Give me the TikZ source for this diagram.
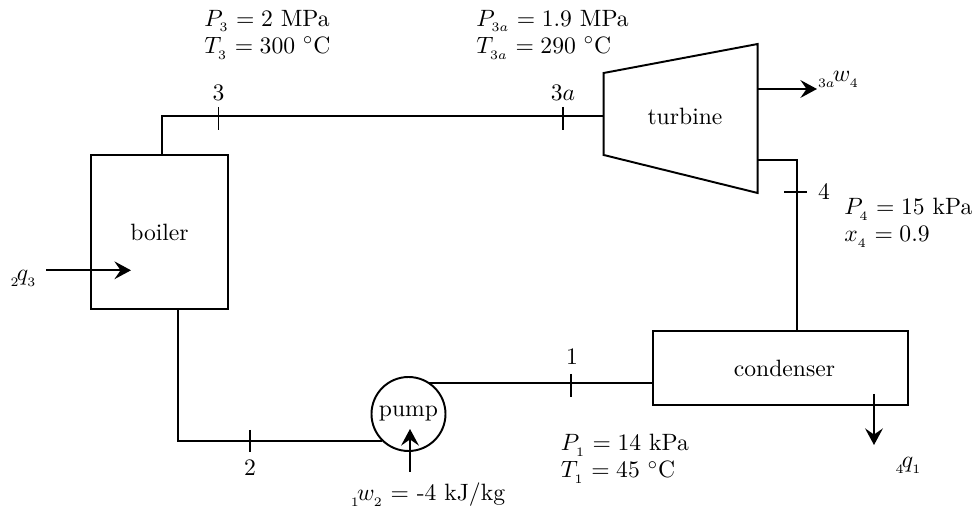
\documentclass[11pt,tikz,border=0pt]{standalone}
\usepackage{amsmath, amssymb}
\usetikzlibrary{positioning,arrows.meta}
\tikzset{
  flowarrow/.style={-{Stealth[length=2.7mm,width=2.9mm,inset=1mm]}, line width=0.9pt},
  pipe/.style={line width=0.9pt},
  tickmark/.style={line width=0.7pt},
  unitbox/.style={draw, line width=0.9pt, inner sep=0pt, align=center},
  statelabel/.style={align=left, anchor=west, inner sep=0pt},
  relabel/.style={inner sep=0pt}
}

\begin{document}
\begin{tikzpicture}[x=0.0163cm, y=-0.0163cm]
  \useasboundingbox (0,0) rectangle (974,508);
  % units
  \node[unitbox, minimum width=137*0.0163cm, minimum height=154*0.0163cm] (boiler) at (159.5,232) {\raisebox{-1.4pt}{boiler}};
  \node[unitbox, minimum width=255*0.0163cm, minimum height=74*0.0163cm] (condenser) at (780.5,368) {\hspace*{3.7pt}condenser};
  \node[unitbox, circle, minimum size=74*0.0163cm] (pump) at (408.5,414) {pump};
  \coordinate (tl1) at (603.7,73);
  \coordinate (tr1) at (757.7,44);
  \coordinate (tr2) at (757.7,193);
  \coordinate (tl2) at (603.7,155);
  \draw[line width=0.9pt, line join=miter] (tl1) -- (tr1) -- (tr2) -- (tl2) -- cycle;
  \node[relabel] (turbine) at (685,116) {turbine};
  % pipes
  \coordinate (b3) at (162,155);
  \coordinate (b2) at (178,309);
  \coordinate (tin) at (603.7,115.7);
  \coordinate (tout) at (757.7,160);
  \coordinate (cin) at (796.7,331);
  \coordinate (cout) at (653,383);
  \draw[pipe] (b3) |- (tin);
  \draw[pipe] (tout) -| (cin);
  \draw[pipe] (cout) -- (cout -| pump.57);
  \draw[pipe] (b2) |- (pump.-134);
  % state ticks
  \coordinate (s3) at (218.5,107);
  \coordinate (s3a) at (563,107);
  \coordinate (s4) at (784,192);
  \coordinate (s1) at (571,374);
  \coordinate (s2) at (250,430);
  \draw[tickmark] (s3) -- ++(0,23);
  \draw[tickmark] (s3a) -- ++(0,23);
  \draw[tickmark] (s4) -- ++(23,0);
  \draw[tickmark] (s1) -- ++(0,23);
  \draw[tickmark] (s2) -- ++(0,22);
  \node[relabel] (n3) at (218.5,93) {3};
  \node[relabel] (n3a) at (563,93) {$3a$};
  \node[relabel] (n4) at (824,192) {4};
  \node[relabel] (n1) at (572,357) {1};
  \node[relabel] (n2) at (250,468) {2};
  % energy flows
  \coordinate (qin) at (46,270.3);
  \coordinate (qint) at (131,270.3);
  \coordinate (wout) at (757.7,89);
  \coordinate (woutt) at (817,89);
  \coordinate (qout) at (874,394);
  \coordinate (qoutt) at (874,445);
  \coordinate (win) at (410,472);
  \coordinate (wint) at (410,429);
  \draw[flowarrow] (qin) -- (qint);
  \draw[flowarrow] (wout) -- (woutt);
  \draw[flowarrow] (qout) -- (qoutt);
  \draw[flowarrow] (win) -- (wint);
  \node[relabel] (lq23) at (24,278) {${}_{_2}\!q_{_3}$};
  \node[relabel] (lw34) at (839,79) {${}_{_{3a}}\!w_{_4}$};
  \node[relabel] (lq41) at (909,465) {${}_{_4}\!q_{_1}$};
  \node[relabel] (lw12) at (428,495) {${}_{_1}\!w_{_2} =$ -4 kJ/kg};
  % state data
  \node[statelabel] (d3) at (204,34.5) {$P_{_3} = 2$ MPa\\[-1pt] $T_{_3} = 300$ $^\circ$C};
  \node[statelabel] (d3a) at (476,34.5) {$P_{_{3a}} = 1.9$ MPa\\[-1pt] $T_{_{3a}} = 290$ $^\circ$C};
  \node[statelabel] (d4) at (844,223) {$P_{_4} = 15$ kPa\\[-1pt] $x_{_4} = 0.9$};
  \node[statelabel] (d1) at (560.5,459) {$P_{_1} = 14$ kPa\\[-1pt] $T_{_1} = 45$ $^\circ$C};
\end{tikzpicture}
\end{document}
